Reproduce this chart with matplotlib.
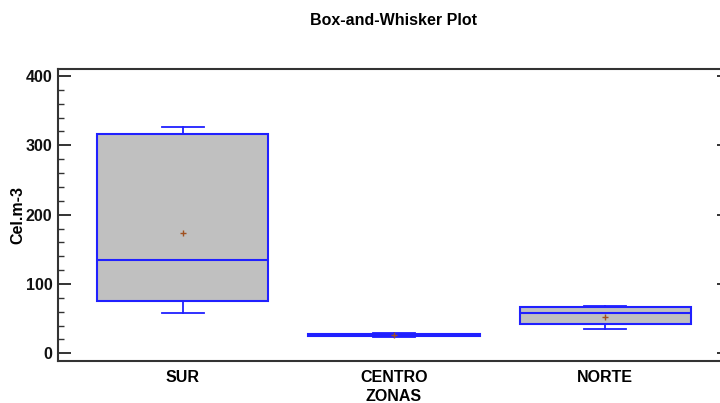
import matplotlib
matplotlib.use("Agg")
import matplotlib.pyplot as plt
from matplotlib.ticker import MultipleLocator

plt.rcParams["font.family"] = ["Liberation Sans", "DejaVu Sans"]
plt.rcParams["font.weight"] = "bold"

# ------------------------------------------------------------------------------
#   Data
# ------------------------------------------------------------------------------
zonas = ["SUR", "CENTRO", "NORTE"]
whisker_low = [57.5, 23.5, 34.5]
q1 = [76.0, 24.5, 41.7]
median = [134.0, 26.0, 58.5]
q3 = [317.0, 28.5, 66.6]
whisker_high = [326.0, 29.5, 68.6]
mean = [173.0, 26.0, 53.0]

stats = []
for i, name in enumerate(zonas):
    stats.append(
        {
            "label": name,
            "whislo": whisker_low[i],
            "q1": q1[i],
            "med": median[i],
            "q3": q3[i],
            "whishi": whisker_high[i],
            "mean": mean[i],
            "fliers": [],
        }
    )

# ------------------------------------------------------------------------------
#   Plot
# ------------------------------------------------------------------------------
blue = "#2020ff"
fig = plt.figure(figsize=(7.2, 4.03), dpi=100)
ax = fig.add_axes([58 / 720, 42 / 403, 672 / 720, 292 / 403])

ax.bxp(
    stats,
    positions=[1, 2, 3],
    widths=0.81,
    patch_artist=True,
    showmeans=True,
    boxprops={"facecolor": "#c0c0c0", "edgecolor": blue, "linewidth": 1.5},
    medianprops={"color": blue, "linewidth": 1.5},
    whiskerprops={"color": blue, "linewidth": 1.3},
    capprops={"color": blue, "linewidth": 1.3},
    capwidths=0.2,
    meanprops={
        "marker": "+",
        "markeredgecolor": "#a05020",
        "markersize": 5,
        "markeredgewidth": 1.0,
    },
)

ax.set_xlim(0.41, 3.59)
ax.set_ylim(-11, 410)
ax.yaxis.set_major_locator(MultipleLocator(100))
ax.yaxis.set_minor_locator(MultipleLocator(20))

for side in ["top", "left", "bottom"]:
    ax.spines[side].set_color("#333333")
    ax.spines[side].set_linewidth(1.5)
ax.spines["right"].set_visible(False)

ax.tick_params(axis="y", which="major", direction="in", length=9.4, width=1.2,
               left=True, right=True, labelsize=11.5, pad=4, colors="#111111")
ax.tick_params(axis="y", which="minor", direction="in", length=4.3, width=1.0,
               left=True, right=False, colors="#333333")
ax.tick_params(axis="x", which="both", length=0, labelsize=11.5, pad=6.5)

ax.set_xlabel("ZONAS", fontsize=11.5, fontweight="bold", labelpad=3)
ax.set_ylabel("Cel.m-3", fontsize=11.5, fontweight="bold", labelpad=0)
ax.set_title("Box-and-Whisker Plot", fontsize=11.5, fontweight="bold", pad=32)

fig.savefig("out.png", dpi=100)
